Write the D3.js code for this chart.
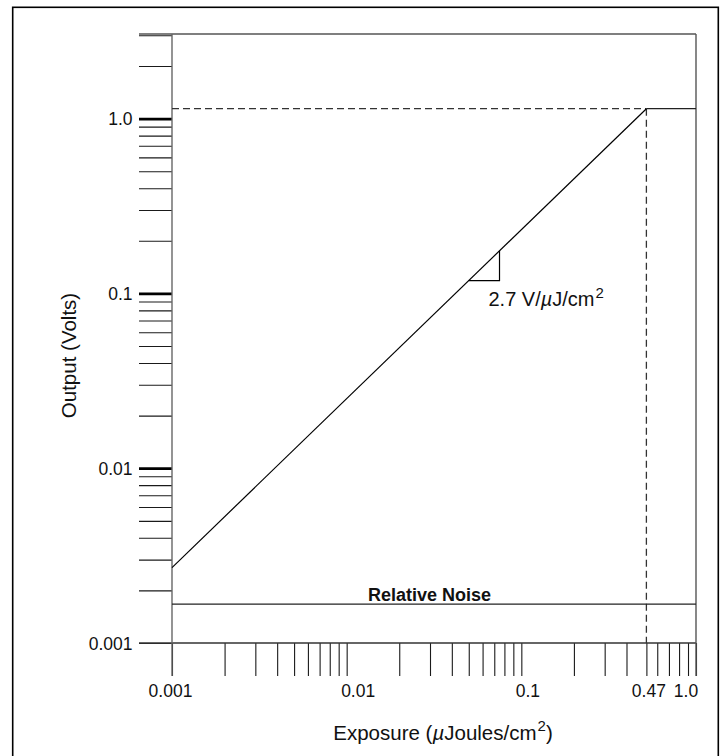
<!DOCTYPE html>
<html>
<head>
<meta charset="utf-8">
<script src="https://cdn.jsdelivr.net/npm/d3@7"></script>
<style>
  body { margin: 0; background: #fff; }
  svg { display: block; font-family: "Liberation Sans", Arial, Helvetica, sans-serif; }
</style>
</head>
<body>
<svg></svg>
<script>
// response line (log-log)
var lineExposure = [0.001, 0.52];
var lineOutput = [0.0027, 1.14];
// saturation knee: sits where the 0.5 tick would be, labelled 0.47
var kneeExposure = 0.52;
var kneeLabel = "0.47";
var saturationOutput = 1.14;
var noiseOutput = 0.00167;
// slope marker legs
var slopeExposure = [0.05, 0.075];
var slopeText = "2.7 V/";

var xLabelValues = [0.001, 0.01, 0.1, kneeExposure, 1.0];
var xLabelText = ["0.001", "0.01", "0.1", kneeLabel, "1.0"];
var yLabelValues = [0.001, 0.01, 0.1, 1.0];
var yLabelText = ["0.001", "0.01", "0.1", "1.0"];
var yMajor = [0.01, 0.1, 1.0];

var svg = d3.select("svg"),
    margin = {top: 34, right: 27, bottom: 113, left: 172},
    width = 723 - margin.left - margin.right,
    height = 756 - margin.top - margin.bottom;

svg.attr("width", 723).attr("height", 756);

// outer frame (runs off the bottom)
svg.append("rect")
    .attr("x", 12.7).attr("y", 7.3)
    .attr("width", 705.6).attr("height", 800)
    .attr("fill", "none").attr("stroke", "#000").attr("stroke-width", 1.6);

var g = svg.append("g")
    .attr("transform", "translate(" + margin.left + "," + margin.top + ")");

var x = d3.scaleLog().domain([0.001, 1]).range([0, width]);
var y = d3.scaleLog().domain([0.001, 3.05]).range([height, 0]);

var tickLen = 33;

function isMajor(d) {
    return yMajor.some(function(m) { return Math.abs(m - d) < 1e-9; });
}

// x ticks hang below the axis (the 0.5 tick is taken by the knee)
var xTicks = x.ticks().filter(function(d) { return Math.abs(d - 0.5) > 1e-9; });
xTicks.push(kneeExposure);
g.append("g")
    .attr("class", "axis axis-x")
    .attr("transform", "translate(0," + height + ")")
    .call(d3.axisBottom(x).tickValues(xTicks).tickSize(tickLen).tickFormat(""))
    .call(function(a) { a.select(".domain").remove(); })
    .selectAll("line").attr("stroke", "#1a1a1a").attr("stroke-width", 1.1);

// y ticks stick out to the left
var yTicks = y.ticks();
g.append("g")
    .attr("class", "axis axis-y")
    .call(d3.axisLeft(y).tickValues(yTicks).tickSize(tickLen).tickFormat(""))
    .call(function(a) { a.select(".domain").remove(); })
    .selectAll(".tick line")
    .attr("stroke", function(d) { return isMajor(d) ? "#000" : "#1a1a1a"; })
    .attr("stroke-width", function(d) { return isMajor(d) ? 2.8 : 1.1; });

// plot frame
g.append("line").attr("x1", -tickLen).attr("x2", width).attr("y1", 0).attr("y2", 0)
    .attr("stroke", "#555").attr("stroke-width", 1.4);
g.append("line").attr("x1", -tickLen).attr("x2", width).attr("y1", height).attr("y2", height)
    .attr("stroke", "#333").attr("stroke-width", 1.3);
g.append("line").attr("x1", 0).attr("x2", 0).attr("y1", 0).attr("y2", height + tickLen)
    .attr("stroke", "#666").attr("stroke-width", 1.4);
g.append("line").attr("x1", width).attr("x2", width).attr("y1", 0).attr("y2", height + tickLen)
    .attr("stroke", "#555").attr("stroke-width", 1.4);

// tick labels
var xLabelDx = [-1.5, 11.5, 6.5, 2.5, -10];
g.selectAll(".xlabel")
    .data(xLabelValues)
    .enter().append("text")
    .attr("class", "xlabel")
    .attr("x", function(d, i) { return x(d) + xLabelDx[i]; })
    .attr("y", height + 53.5)
    .attr("text-anchor", "middle")
    .attr("font-size", 17.5)
    .attr("fill", "#111")
    .text(function(d, i) { return xLabelText[i]; });

g.selectAll(".ylabel")
    .data(yLabelValues)
    .enter().append("text")
    .attr("class", "ylabel")
    .attr("x", -39.5)
    .attr("y", function(d) { return y(d) + 6.5; })
    .attr("text-anchor", "end")
    .attr("font-size", 17.5)
    .attr("fill", "#111")
    .text(function(d, i) { return yLabelText[i]; });

// dashed guides to the knee
g.append("line")
    .attr("x1", 0).attr("x2", x(kneeExposure))
    .attr("y1", y(saturationOutput)).attr("y2", y(saturationOutput))
    .attr("stroke", "#333").attr("stroke-width", 1.3).attr("stroke-dasharray", "7,4");
g.append("line")
    .attr("x1", x(kneeExposure)).attr("x2", x(kneeExposure))
    .attr("y1", y(saturationOutput)).attr("y2", height)
    .attr("stroke", "#333").attr("stroke-width", 1.3).attr("stroke-dasharray", "7,4");

// saturation plateau
g.append("line")
    .attr("x1", x(kneeExposure)).attr("x2", width)
    .attr("y1", y(saturationOutput)).attr("y2", y(saturationOutput))
    .attr("stroke", "#222").attr("stroke-width", 1.2);

// response line
var line = d3.line()
    .x(function(d) { return x(d[0]); })
    .y(function(d) { return y(d[1]); });
g.append("path")
    .datum(d3.zip(lineExposure, lineOutput))
    .attr("d", line)
    .attr("fill", "none").attr("stroke", "#000").attr("stroke-width", 1.2);

// output on the response line for a given exposure (straight in log-log)
function onLine(e) {
    var t = (Math.log10(e) - Math.log10(lineExposure[0])) / (Math.log10(lineExposure[1]) - Math.log10(lineExposure[0]));
    return Math.pow(10, Math.log10(lineOutput[0]) + t * (Math.log10(lineOutput[1]) - Math.log10(lineOutput[0])));
}

// slope triangle
var vA = onLine(slopeExposure[0]), vC = onLine(slopeExposure[1]);
g.append("path")
    .attr("d", "M" + x(slopeExposure[0]) + "," + y(vA) +
               "H" + x(slopeExposure[1]) +
               "V" + y(vC))
    .attr("fill", "none").attr("stroke", "#000").attr("stroke-width", 1.2);

var slopeLbl = g.append("text")
    .attr("x", x(slopeExposure[1]) - 11)
    .attr("y", y(vA) + 25)
    .attr("font-size", 20)
    .attr("fill", "#111");
slopeLbl.append("tspan").text(slopeText);
slopeLbl.append("tspan").attr("font-style", "italic").text("\u00b5");
slopeLbl.append("tspan").text("J/cm");
slopeLbl.append("tspan").attr("font-size", 15).attr("dy", -8).attr("dx", 1).text("2");

// noise floor
g.append("line")
    .attr("x1", 0).attr("x2", width)
    .attr("y1", y(noiseOutput)).attr("y2", y(noiseOutput))
    .attr("stroke", "#222").attr("stroke-width", 1.2);
g.append("text")
    .attr("x", width / 2 - 4.5)
    .attr("y", y(noiseOutput) - 3.5)
    .attr("text-anchor", "middle")
    .attr("font-size", 18)
    .attr("font-weight", "bold")
    .attr("fill", "#111")
    .text("Relative Noise");

// axis titles
var xt = svg.append("text")
    .attr("x", 443)
    .attr("y", 740)
    .attr("text-anchor", "middle")
    .attr("font-size", 20.5)
    .attr("fill", "#111");
xt.append("tspan").text("Exposure (");
xt.append("tspan").attr("font-style", "italic").text("\u00b5");
xt.append("tspan").text("Joules/cm");
xt.append("tspan").attr("font-size", 15).attr("dy", -9).attr("dx", 1).text("2");
xt.append("tspan").attr("dy", 9).text(")");

svg.append("text")
    .attr("transform", "translate(76,355.5) rotate(-90)")
    .attr("text-anchor", "middle")
    .attr("font-size", 20.5)
    .attr("fill", "#111")
    .text("Output (Volts)");
</script>
</body>
</html>
